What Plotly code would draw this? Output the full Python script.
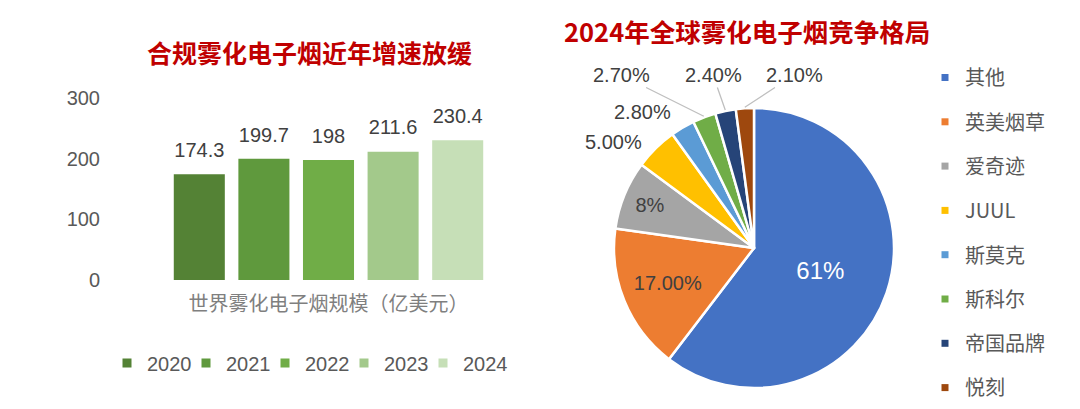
import math
import plotly.graph_objects as go

W, H = 1080, 409

# 左图：世界雾化电子烟规模（亿美元）
years = ["2020", "2021", "2022", "2023", "2024"]
market_size = [174.3, 199.7, 198, 211.6, 230.4]
bar_colors = ["#548235", "#5f993d", "#70ad47", "#a3c98b", "#c6dfb7"]

# 右图：2024年全球雾化电子烟竞争格局
brands = ["其他", "英美烟草", "爱奇迹", "JUUL", "斯莫克", "斯科尔", "帝国品牌", "悦刻"]
shares = [61, 17, 8, 5, 2.8, 2.7, 2.4, 2.1]
share_labels = ["61%", "17.00%", "8%", "5.00%", "2.80%", "2.70%", "2.40%", "2.10%"]
pie_colors = ["#4472c4", "#ed7d31", "#a5a5a5", "#ffc000",
              "#5b9bd5", "#70ad47", "#264478", "#9e480e"]

FONT = "Liberation Sans, Arial, Noto Sans CJK SC, sans-serif"
CJK = "Noto Sans CJK SC, Liberation Sans, sans-serif"
GREY = "#595959"
DARK = "#404040"
RED = "#c00000"

# 饼图所在区域（像素）
PIE_X0, PIE_X1, PIE_Y0, PIE_Y1 = 614, 894, 108, 388
# 小扇区标签的放置位置（像素，None 表示放在扇区内）和是否画引导线
label_px = [None, None, None, (613, 142), (642, 112), (621, 75), (713, 75), (794, 75)]
leader_on = [False, False, False, False, False, True, True, True]

fig = go.Figure()

for yr, val, col in zip(years, market_size, bar_colors):
    fig.add_trace(go.Bar(
        x=[yr], y=[val], name=yr,
        marker=dict(color=col, line=dict(width=0)),
        showlegend=False, hoverinfo="x+y",
    ))

# 柱顶数值
fig.add_trace(go.Scatter(
    x=years, y=market_size, mode="markers+text",
    text=[f"{v:g}" for v in market_size], textposition="top center",
    marker=dict(size=18, opacity=0), cliponaxis=False,
    textfont=dict(size=20, color=DARK, family=FONT),
    showlegend=False, hoverinfo="skip",
))

# 柱图图例
for yr, col in zip(years, bar_colors):
    fig.add_trace(go.Scatter(
        x=[None], y=[None], mode="markers", name=yr,
        marker=dict(symbol="square", size=9, color=col),
        legend="legend",
    ))
# 占位项，防止最后一项被图例裁切
fig.add_trace(go.Scatter(
    x=[None], y=[None], mode="markers", name=" ",
    marker=dict(size=1, color="rgba(0,0,0,0)"), legend="legend",
))

n = len(brands)
fig.add_trace(go.Pie(
    labels=brands, values=shares, text=share_labels,
    textinfo="text", sort=False, direction="clockwise", rotation=0,
    marker=dict(colors=pie_colors, line=dict(color="white", width=2.5)),
    textposition=["inside" if p is None else "none" for p in label_px],
    insidetextorientation="horizontal",
    textfont=dict(size=[24] + [20] * (n - 1),
                  color=["white"] + [DARK] * (n - 1), family=FONT),
    domain=dict(x=[PIE_X0 / W, PIE_X1 / W], y=[1 - PIE_Y1 / H, 1 - PIE_Y0 / H]),
    showlegend=False, hoverinfo="label+percent", automargin=False,
))

# 饼图图例（方形小色块）
for b, col in zip(brands, pie_colors):
    fig.add_trace(go.Scatter(
        x=[None], y=[None], mode="markers", name=b,
        marker=dict(symbol="square", size=7, color=col),
        legend="legend2", legendgroup=b,
    ))

# 扇区外标签：引导线指向扇区中线的外缘
cx, cy = (PIE_X0 + PIE_X1) / 2, (PIE_Y0 + PIE_Y1) / 2
r = (PIE_X1 - PIE_X0) / 2 + 1
total = sum(shares)
annotations = []
cum = 0
for v, lbl, pos, lead in zip(shares, share_labels, label_px, leader_on):
    ang = (cum + v / 2) / total * 2 * math.pi
    cum += v
    if pos is None:
        continue
    tx, ty = cx + r * math.sin(ang), cy - r * math.cos(ang)
    annotations.append(dict(
        x=tx / W, y=1 - ty / H, xref="paper", yref="paper",
        ax=pos[0] - tx, ay=pos[1] - ty, text=lbl, showarrow=True,
        arrowhead=0, arrowwidth=1.3,
        arrowcolor="#bfbfbf" if lead else "rgba(0,0,0,0)",
        font=dict(size=20, color=DARK, family=FONT),
    ))

annotations += [
    dict(text="<b>合规雾化电子烟近年增速放缓</b>", x=309 / W, y=1 - 52 / H,
         xref="paper", yref="paper", showarrow=False,
         xanchor="center", yanchor="middle",
         font=dict(size=25, color=RED, family=CJK)),
    dict(text="<b>2024年全球雾化电子烟竞争格局</b>", x=747 / W, y=1 - 30 / H,
         xref="paper", yref="paper", showarrow=False,
         xanchor="center", yanchor="middle",
         font=dict(size=25.5, color=RED, family=CJK)),
]

fig.update_layout(
    width=W, height=H,
    margin=dict(l=0, r=0, t=0, b=0, autoexpand=False),
    paper_bgcolor="white", plot_bgcolor="white",
    barmode="overlay", bargap=0.21,
    font=dict(family=FONT, color=GREY, size=20),
    xaxis=dict(
        domain=[167 / W, 490 / W], type="category", automargin=False,
        showticklabels=False, showgrid=False, zeroline=False, showline=False,
        title=dict(text="世界雾化电子烟规模（亿美元）", standoff=16,
                   font=dict(size=20, color="#7f7f7f", family=CJK)),
    ),
    yaxis=dict(
        domain=[1 - 280 / H, 1 - 98 / H], automargin=False,
        range=[0, 300], tickvals=[0, 100, 200, 300],
        showgrid=False, zeroline=False, showline=False,
        ticklabelstandoff=66,
        tickfont=dict(size=20, color=GREY, family=FONT),
    ),
    legend=dict(
        orientation="h", x=107 / W, y=1 - 363 / H,
        xanchor="left", yanchor="middle", entrywidth=34,
        font=dict(size=20, color=GREY, family=FONT),
        bgcolor="rgba(0,0,0,0)",
    ),
    legend2=dict(
        orientation="v", x=925 / W, y=1 - 58 / H,
        xanchor="left", yanchor="top", traceorder="grouped",
        tracegroupgap=15.3, itemwidth=30,
        font=dict(size=20, color=GREY, family=CJK),
        bgcolor="rgba(0,0,0,0)",
    ),
    showlegend=True,
    annotations=annotations,
)

fig.write_html("out.html", config={"displayModeBar": False},
               post_script="document.body.style.margin='0';")
